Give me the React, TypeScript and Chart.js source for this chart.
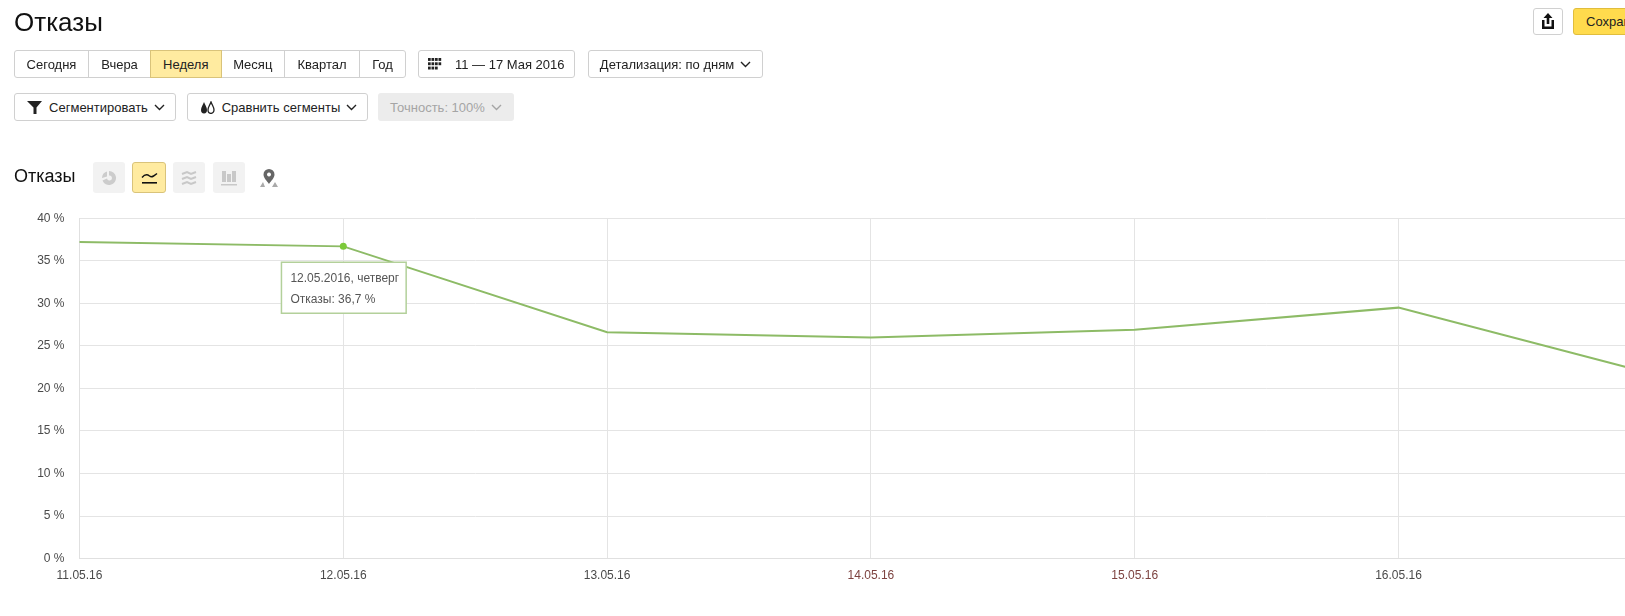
import React, { useEffect, useRef } from "react";
import { Chart, registerables, Tooltip } from "chart.js";

Chart.register(...registerables);

const categories = ["11.05.16", "12.05.16", "13.05.16", "14.05.16", "15.05.16", "16.05.16", "17.05.16"];
const bounceRate = [37.2, 36.7, 26.6, 26.0, 26.9, 29.5, 21.4];
const weekendLabels = ["14.05.16", "15.05.16"];
const yTicks = [0, 5, 10, 15, 20, 25, 30, 35, 40];
const periodTabs = ["Сегодня", "Вчера", "Неделя", "Месяц", "Квартал", "Год"];
const tooltipTitle = "12.05.2016, четверг";
const tooltipBody = "Отказы: 36,7 %";
const activeIndex = 1;

const FONT = '"Liberation Sans", Arial, sans-serif';
const tabEdges = [14, 88, 150, 220.5, 284, 359, 405];

(Tooltip.positioners as any).fixedBelow = function (items: any[]) {
  if (!items.length) return false;
  return { x: items[0].element.x + 0.5, y: items[0].element.y + 16 };
};

const box = (l: number, t: number, r: number, b: number, extra: React.CSSProperties = {}): React.CSSProperties => ({
  position: "absolute",
  left: l,
  top: t,
  width: r - l,
  height: b - t,
  boxSizing: "border-box",
  border: "1px solid #d0d0d0",
  borderRadius: 3,
  background: "#fff",
  color: "#222",
  font: `13px ${FONT}`,
  display: "flex",
  alignItems: "center",
  justifyContent: "center",
  whiteSpace: "nowrap",
  ...extra,
});

const Chevron = ({ color = "#222" }: { color?: string }) => (
  <svg width="11" height="7" viewBox="0 0 11 7" style={{ marginLeft: 6 }}>
    <path d="M1 1 L5.5 5.5 L10 1" fill="none" stroke={color} strokeWidth="1.4" />
  </svg>
);

const Grid = () => (
  <svg width="15" height="12" viewBox="0 0 15 12" style={{ marginRight: 12 }}>
    <g fill="#222">
      {[0, 3.5, 7, 10.5].flatMap((x) =>
        [0, 4.3, 8.6].map((y) => (x === 10.5 && y === 8.6 ? null : <rect key={`${x}-${y}`} x={x} y={y} width="2.7" height="2.9" />))
      )}
    </g>
  </svg>
);

const iconTile = (l: number, r: number, active = false): React.CSSProperties => ({
  position: "absolute",
  left: l,
  top: 162,
  width: r - l,
  height: 31,
  boxSizing: "border-box",
  borderRadius: 3,
  background: active ? "#ffeba0" : "#f2f2f2",
  border: active ? "1px solid #d9c37a" : "none",
  display: "flex",
  alignItems: "center",
  justifyContent: "center",
});

export default function App() {
  const ref = useRef<HTMLCanvasElement>(null);

  useEffect(() => {
    const chart = new Chart(ref.current!, {
      type: "line",
      data: {
        labels: categories,
        datasets: [
          {
            label: "Отказы",
            data: bounceRate,
            borderColor: "#8dbb66",
            backgroundColor: "#8dbb66",
            borderWidth: 2,
            tension: 0,
            pointRadius: bounceRate.map((_, i) => (i === activeIndex ? 3.5 : 0)),
            pointHoverRadius: 3.5,
            pointBorderWidth: 0,
            pointHoverBorderWidth: 0,
          },
        ],
      },
      options: {
        responsive: false,
        animation: false,
        events: [],
        layout: { padding: { left: 0, right: 77.7, top: 218.3, bottom: 17.4 } },
        scales: {
          x: {
            type: "category",
            offset: false,
            afterFit: (s: any) => {
              s.height = 40;
            },
            grid: { color: "#e4e4e4", lineWidth: 1, drawTicks: false },
            border: { color: "#e0e0e0" },
            ticks: {
              autoSkip: false,
              maxRotation: 0,
              padding: 10,
              font: { family: "Liberation Sans", size: 12 },
              color: (c: any) => (weekendLabels.includes(categories[c.index]) ? "#7d4340" : "#4a4a4a"),
            },
          },
          y: {
            min: 0,
            max: 40,
            afterBuildTicks: (s: any) => {
              s.ticks = yTicks.map((value) => ({ value }));
            },
            afterFit: (s: any) => {
              s.width = 79.5;
            },
            grid: { color: "#e4e4e4", lineWidth: 1, drawTicks: false },
            border: { color: "#e0e0e0" },
            ticks: {
              padding: 15,
              font: { family: "Liberation Sans", size: 12 },
              color: "#4a4a4a",
              callback: (v: any) => `${v} %`,
            },
          },
        },
        plugins: {
          legend: { display: false },
          tooltip: {
            enabled: true,
            position: "fixedBelow" as any,
            xAlign: "center",
            yAlign: "top",
            caretSize: 0,
            caretPadding: 0,
            cornerRadius: 0,
            backgroundColor: "#fff",
            borderColor: "#b3d09a",
            borderWidth: 1.5,
            displayColors: false,
            titleColor: "#555",
            bodyColor: "#555",
            titleFont: { family: "Liberation Sans", size: 12, weight: "normal" },
            bodyFont: { family: "Liberation Sans", size: 12 },
            titleMarginBottom: 7,
            padding: { left: 9, right: 7, top: 9, bottom: 6 },
            callbacks: {
              title: () => tooltipTitle,
              label: () => tooltipBody,
            },
          },
        },
      },
    } as any);
    chart.tooltip!.setActiveElements([{ datasetIndex: 0, index: activeIndex }], { x: 0, y: 0 });
    chart.setActiveElements([{ datasetIndex: 0, index: activeIndex }]);
    chart.update();
    return () => chart.destroy();
  }, []);

  return (
    <div style={{ position: "fixed", left: 0, top: 0, width: 1625, height: 616, overflow: "hidden", background: "#fff", font: `13px ${FONT}` }}>
      <canvas ref={ref} width={1740} height={616} style={{ position: "absolute", left: 0, top: 0, display: "block" }} />

      <div style={{ position: "absolute", left: 14, top: 7, font: `26px ${FONT}`, color: "#111" }}>Отказы</div>

      {periodTabs.map((t, i) => (
        <div
          key={t}
          style={box(tabEdges[i], 50, tabEdges[i + 1] + 1, 78, {
            borderRadius: i === 0 ? "3px 0 0 3px" : i === periodTabs.length - 1 ? "0 3px 3px 0" : 0,
            background: t === "Неделя" ? "#ffeba0" : "#fff",
            borderColor: t === "Неделя" ? "#d9c37a" : "#d0d0d0",
            zIndex: t === "Неделя" ? 1 : 0,
          })}
        >
          {t}
        </div>
      ))}

      <div style={box(418, 50, 574.5, 78)}>
        <Grid />
        11 — 17 Мая 2016
      </div>
      <div style={box(588, 50, 763, 78)}>
        Детализация: по дням
        <Chevron />
      </div>

      <div style={box(14, 93, 176, 121, { paddingLeft: 2 })}>
        <svg width="15" height="13" viewBox="0 0 15 13" style={{ marginRight: 7 }}>
          <path d="M0 0 H15 L9.5 6.5 V13 H6.5 V6.5 Z" fill="#222" />
        </svg>
        Сегментировать
        <Chevron />
      </div>
      <div style={box(186.5, 93, 367.5, 121, { paddingLeft: 3 })}>
        <svg width="15" height="13" viewBox="0 0 15 13" style={{ marginRight: 7 }}>
          <path d="M4 1 C5 4 7 6 7 9 A3 3.4 0 0 1 1 9 C1 6 3 4 4 1 Z" fill="#222" />
          <path d="M11 1 C12 4 14 6 14 9 A3 3.4 0 0 1 8 9 C8 6 10 4 11 1 Z" fill="none" stroke="#222" strokeWidth="1.3" />
        </svg>
        Сравнить сегменты
        <Chevron />
      </div>
      <div style={box(378, 93, 514, 121, { background: "#ececec", border: "none", color: "#a5a5a5" })}>
        Точность: 100%
        <Chevron color="#a5a5a5" />
      </div>

      <div style={{ position: "absolute", left: 14, top: 166, font: `18px ${FONT}`, color: "#111" }}>Отказы</div>

      <div style={iconTile(93, 125)}>
        <svg width="16" height="16" viewBox="0 0 16 16">
          <path d="M8 1 A7 7 0 1 1 1.5 10.5 L6 8.5 A2.5 2.5 0 1 0 8 5.5 Z M6 1.5 V6.5 L1 8 A7 7 0 0 1 6 1.5 Z" fill="#cccccc" />
        </svg>
      </div>
      <div style={iconTile(132, 166, true)}>
        <svg width="17" height="14" viewBox="0 0 17 14">
          <path d="M1 6.5 C4 3 6 3 8.5 5 C11 7 13 5 16 2.5" fill="none" stroke="#111" strokeWidth="1.4" />
          <rect x="1" y="11" width="15" height="1.6" fill="#111" />
        </svg>
      </div>
      <div style={iconTile(173, 205)}>
        <svg width="16" height="16" viewBox="0 0 16 16">
          <path d="M1 4 L6 2 L10 4 L15 2 M1 9 L6 7 L10 9 L15 7 M1 14 L6 12 L10 14 L15 12" fill="none" stroke="#c8c8c8" strokeWidth="2" />
        </svg>
      </div>
      <div style={iconTile(213, 245)}>
        <svg width="16" height="16" viewBox="0 0 16 16">
          <g fill="#c8c8c8">
            <rect x="1" y="1" width="4" height="11" />
            <rect x="6" y="4" width="4" height="8" />
            <rect x="11" y="1" width="4" height="11" />
            <rect x="0" y="14" width="16" height="1.5" />
          </g>
        </svg>
      </div>
      <div style={{ position: "absolute", left: 260, top: 168, width: 18, height: 20 }}>
        <svg width="18" height="20" viewBox="0 0 18 20">
          <path d="M9 1 A5.5 5.5 0 0 1 14.5 6.5 C14.5 10 11 13 9 16 C7 13 3.5 10 3.5 6.5 A5.5 5.5 0 0 1 9 1 Z M9 4.5 A2 2 0 1 0 9.01 4.5 Z" fill="#666" fillRule="evenodd" />
          <path d="M3 14 L0 19 H5 Z M15 14 L18 19 H12 Z" fill="#aaa" />
        </svg>
      </div>

      <div style={box(1533, 7.5, 1563, 35, {})}>
        <svg width="14" height="16" viewBox="0 0 14 16">
          <path d="M7 0 L11.5 5 H8.3 V11 H5.7 V5 H2.5 Z M1 7 H3.5 V13.5 H10.5 V7 H13 V16 H1 Z" fill="#111" />
        </svg>
      </div>
      <div style={box(1573, 7.5, 1680, 35, { background: "#ffdb4d", borderColor: "#e0bd3d", justifyContent: "flex-start", paddingLeft: 12, fontSize: 13 })}>
        Сохранить
      </div>
    </div>
  );
}
